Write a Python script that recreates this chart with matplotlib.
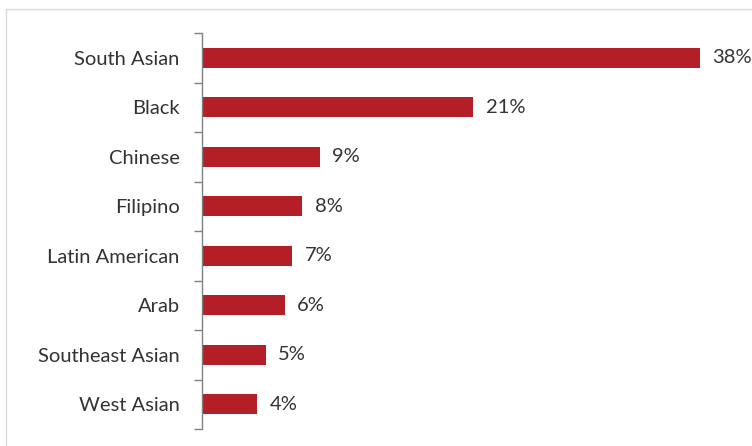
import matplotlib.pyplot as plt
from matplotlib.patches import Rectangle

groups = ["South Asian", "Black", "Chinese", "Filipino", "Latin American",
          "Arab", "Southeast Asian", "West Asian"]
shares = [38.0, 20.7, 9.0, 7.65, 6.9, 6.3, 4.85, 4.2]
share_labels = ["38%", "21%", "9%", "8%", "7%", "6%", "5%", "4%"]

bar_color = "#B41F27"
text_color = "#333333"

plt.rcParams["font.family"] = ["Lato", "DejaVu Sans"]

fig = plt.figure(figsize=(7.52, 4.46), dpi=100)

# thin light border around the chart area
fig.patches.append(Rectangle((6 / 752, -0.01), 1.0, 1 - 9 / 446 + 0.01,
                             transform=fig.transFigure, fill=False,
                             edgecolor="#D9D9D9", linewidth=1.0))

ax = fig.add_axes([202 / 752, 17 / 446, 543 / 752, 396 / 446])

y = list(range(len(groups)))
ax.barh(y, shares, height=0.41, color=bar_color)

for yi, v, lab in zip(y, shares, share_labels):
    ax.annotate(lab, (v, yi), xytext=(9, 0), textcoords="offset points",
                va="center", ha="left", fontsize=14.5, color=text_color)

ax.set_ylim(len(groups) - 0.5, -0.5)
ax.set_xlim(0, 543 / 13.1)

ax.set_yticks(y)
ax.set_yticklabels(groups, fontsize=14.5, color=text_color)
ax.tick_params(axis="y", length=0, pad=16)

# tick marks between categories on the left of the axis
ax.set_yticks([i - 0.5 for i in range(len(groups) + 1)], minor=True)
ax.tick_params(axis="y", which="minor", length=6, width=1, color="#808080",
               direction="out")

ax.set_xticks([])
for side in ["top", "right", "bottom"]:
    ax.spines[side].set_visible(False)
ax.spines["left"].set_color("#808080")
ax.spines["left"].set_linewidth(1)

fig.savefig("out.png", dpi=100)
